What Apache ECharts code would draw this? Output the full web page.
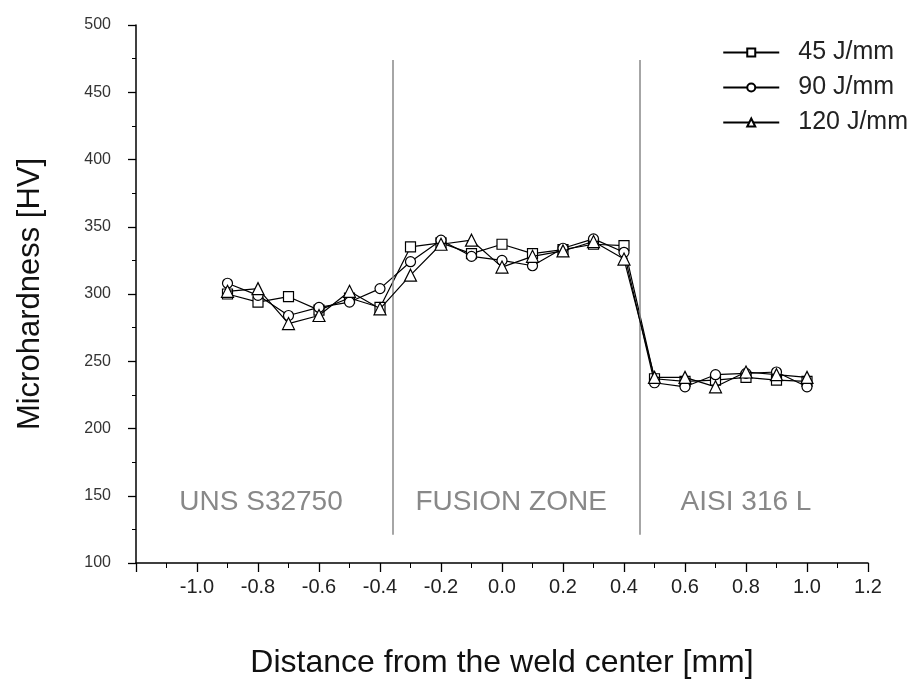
<!DOCTYPE html>
<html>
<head>
<meta charset="utf-8">
<script src="https://cdn.jsdelivr.net/npm/echarts@6/dist/echarts.min.js"></script>
<style>html,body{margin:0;padding:0;background:#fff;}#c{width:919px;height:682px;}</style>
</head>
<body>
<div id="c"></div>
<script>
const distances = [-0.9,-0.8,-0.7,-0.6,-0.5,-0.4,-0.3,-0.2,-0.1,0.0,0.1,0.2,0.3,0.4,0.5,0.6,0.7,0.8,0.9,1.0];
const hv45  = [300,294,298,288,297,290,335,338,330,337,330,333,337,336,237,235,236,238,236,235];
const hv90  = [308,299,284,290,294,304,324,340,328,325,321,334,341,331,234,231,240,241,242,231];
const hv120 = [302,304,278,284,302,289,314,337,340,320,328,332,339,326,238,238,231,242,240,238];
const seriesNames = ['45 J/mm','90 J/mm','120 J/mm'];
const seriesSymbols = ['rect','circle','triangle'];
const boundaryX = [-0.358, 0.453];
const boundaryY = [121, 474];
const regionNames = ['UNS S32750','FUSION ZONE','AISI 316 L'];
const regionX = [-0.79, 0.03, 0.80];
const regionY = 145;

const allData = [hv45, hv90, hv120];
const chart = echarts.init(document.getElementById('c'));
const font = 'Liberation Sans, Arial, sans-serif';

const series = allData.map((vals, i) => ({
  name: seriesNames[i],
  type: 'line',
  data: distances.map((d, j) => [d, vals[j]]),
  symbol: seriesSymbols[i],
  symbolSize: seriesSymbols[i] === 'triangle' ? 12 : 10,
  showSymbol: true,
  lineStyle: {color: '#000', width: 1.2},
  itemStyle: {color: '#fff', borderColor: '#000', borderWidth: 1.2},
  z: 3 + i
}));

series.push({
  name: 'boundaries',
  type: 'line',
  data: [],
  silent: true,
  markLine: {
    symbol: ['none','none'],
    silent: true,
    label: {show: false},
    lineStyle: {color: '#888', width: 1.5, type: 'solid'},
    data: boundaryX.map(x => [{coord: [x, boundaryY[0]]}, {coord: [x, boundaryY[1]]}])
  }
});

series.push({
  name: 'regions',
  type: 'scatter',
  symbolSize: 0,
  silent: true,
  data: regionX.map((x, i) => ({value: [x, regionY], name: regionNames[i]})),
  label: {
    show: true,
    position: 'inside',
    formatter: p => p.name,
    color: '#6a6a6a',
    fontSize: 28,
    fontFamily: font
  }
});

chart.setOption({
  backgroundColor: '#fff',
  animation: false,
  grid: {left: 136, right: 51, top: 25, bottom: 119, containLabel: false, outerBoundsMode: 'none'},
  legend: {
    data: seriesNames.map(n => ({name: n})),
    orient: 'vertical',
    right: 6,
    top: 35,
    itemGap: 10,
    itemWidth: 56,
    itemHeight: 10,
    textStyle: {fontSize: 25, color: '#222', fontFamily: font, padding: [0, 0, 0, 14]},
    inactiveColor: '#000'
  },
  xAxis: {
    type: 'value',
    min: -1.2, max: 1.2, interval: 0.2,
    name: 'Distance from the weld center [mm]',
    nameLocation: 'middle',
    nameGap: 84,
    nameTextStyle: {fontSize: 32, color: '#111', fontFamily: font},
    axisLine: {show: true, onZero: false, lineStyle: {color: '#000', width: 1.5}},
    axisTick: {show: true, inside: false, length: 9, lineStyle: {color: '#000', width: 1.3}},
    minorTick: {show: true, splitNumber: 2, length: 5, lineStyle: {color: '#000', width: 1}},
    splitLine: {show: false},
    axisLabel: {
      margin: 14,
      fontSize: 20,
      color: '#222',
      fontFamily: font,
      formatter: v => (Math.abs(v + 1.2) < 1e-6 ? '' : (Math.abs(v) < 1e-9 ? '0.0' : v.toFixed(1)))
    }
  },
  yAxis: {
    type: 'value',
    min: 100, max: 500, interval: 50,
    name: 'Microhardness [HV]',
    nameLocation: 'middle',
    nameGap: 90,
    nameTextStyle: {fontSize: 31, color: '#111', fontFamily: font},
    axisLine: {show: true, onZero: false, lineStyle: {color: '#000', width: 1.5}},
    axisTick: {show: true, inside: false, length: 8, lineStyle: {color: '#000', width: 1.3}},
    minorTick: {show: true, splitNumber: 2, length: 4, lineStyle: {color: '#000', width: 1}},
    splitLine: {show: false},
    axisLabel: {margin: 25, fontSize: 16, color: '#333', fontFamily: font}
  },
  series: series
});
</script>
</body>
</html>
